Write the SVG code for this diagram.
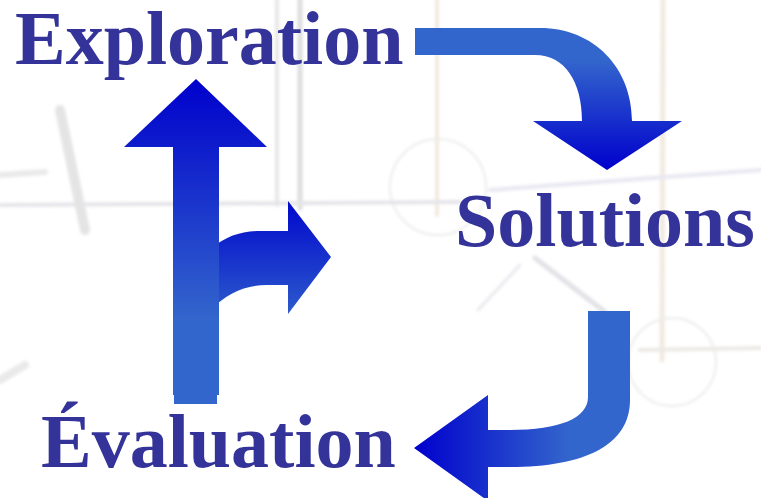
<svg xmlns="http://www.w3.org/2000/svg" width="761" height="498" viewBox="0 0 761 498">
  <style>
    .label { font-family: "Liberation Serif", "Times New Roman", serif; font-weight: bold; font-size: 76px; fill: #333399; }
    .sk { fill: none; stroke-linecap: round; }
  </style>
  <defs>
    <linearGradient id="gTop" gradientUnits="userSpaceOnUse" x1="0" y1="60" x2="0" y2="170">
      <stop offset="0" stop-color="#3366CC"/>
      <stop offset="1" stop-color="#0000CC"/>
    </linearGradient>
    <linearGradient id="gUp" gradientUnits="userSpaceOnUse" x1="0" y1="79" x2="0" y2="320">
      <stop offset="0" stop-color="#0000CC"/>
      <stop offset="1" stop-color="#3366CC"/>
    </linearGradient>
    <linearGradient id="gBranch" gradientUnits="userSpaceOnUse" x1="0" y1="201" x2="0" y2="330">
      <stop offset="0" stop-color="#0008CC"/>
      <stop offset="1" stop-color="#3366CC"/>
    </linearGradient>
    <linearGradient id="gLeft" gradientUnits="userSpaceOnUse" x1="414" y1="0" x2="570" y2="0">
      <stop offset="0" stop-color="#0000CC"/>
      <stop offset="1" stop-color="#3366CC"/>
    </linearGradient>
    <filter id="soft" x="-5%" y="-5%" width="110%" height="110%">
      <feGaussianBlur stdDeviation="1.5"/>
    </filter>
  </defs>

  <rect x="0" y="0" width="761" height="498" fill="#FFFFFF"/>

  <!-- faded sketch background -->
  <g id="background" opacity="0.3" filter="url(#soft)">
    <path class="sk" d="M277,0 L277,205" stroke="#B0B0B0" stroke-width="4"/>
    <path class="sk" d="M300,0 L300,208" stroke="#909090" stroke-width="5"/>
    <path class="sk" d="M437,0 L437,215" stroke="#D0B898" stroke-width="4"/>
    <path class="sk" d="M663,0 L662,360" stroke="#D0B898" stroke-width="5"/>
    <circle class="sk" cx="438" cy="187" r="48" stroke="#C0C0C0" stroke-width="2"/>
    <circle class="sk" cx="672" cy="362" r="44" stroke="#C0C0C0" stroke-width="2"/>
    <path class="sk" d="M0,205 L460,202" stroke="#A8A8B8" stroke-width="4"/>
    <path class="sk" d="M490,190 L761,170" stroke="#B0B0D0" stroke-width="4"/>
    <path class="sk" d="M535,258 L605,312" stroke="#A0A0B0" stroke-width="5"/>
    <path class="sk" d="M478,310 L520,265" stroke="#B8B8C8" stroke-width="3"/>
    <path class="sk" d="M640,350 L761,348" stroke="#C0B8A8" stroke-width="4"/>
    <path class="sk" d="M60,110 L85,230" stroke="#A8A8A8" stroke-width="10"/>
    <path class="sk" d="M0,175 L45,172" stroke="#B8B8B8" stroke-width="6"/>
    <path class="sk" d="M0,380 L25,365" stroke="#B8B8B8" stroke-width="8"/>
  </g>

  <g id="connectors">
    <path id="arrow-exploration-solutions" fill="url(#gTop)"
          d="M415,28 L540,28 C594,28 632,68 632,121 L682,121 L607,170 L533,121 L582,121 C582,82 565,55 535,55 L415,55 Z"/>
    <path id="arrow-solutions-evaluation" fill="url(#gLeft)"
          d="M630,311 L630,400 C630,445 585,467 510,467 L488,467 L488,501 L414,448 L488,395 L488,430 L510,430 C560,430 588,418 588,397 L588,311 Z"/>
    <g id="arrow-evaluation-exploration">
      <path fill="url(#gBranch)"
            d="M210,250 C225,236 242,231 260,231 L288,231 L288,201 L331,257 L288,314 L288,285 L267,285 C245,285 228,293 210,310 Z"/>
      <path fill="url(#gUp)"
            d="M173,395 L173,147 L124,147 L196,79 L267,147 L219,147 L219,395 Z"/>
      <rect x="174" y="394" width="43" height="10" fill="#3366CC"/>
    </g>
  </g>

  <g id="node-exploration">
    <text class="label" x="15" y="64">Exploration</text>
  </g>
  <g id="node-solutions">
    <text class="label" x="455" y="246">Solutions</text>
  </g>
  <g id="node-evaluation">
    <text class="label" x="41" y="467">Évaluation</text>
  </g>
</svg>
